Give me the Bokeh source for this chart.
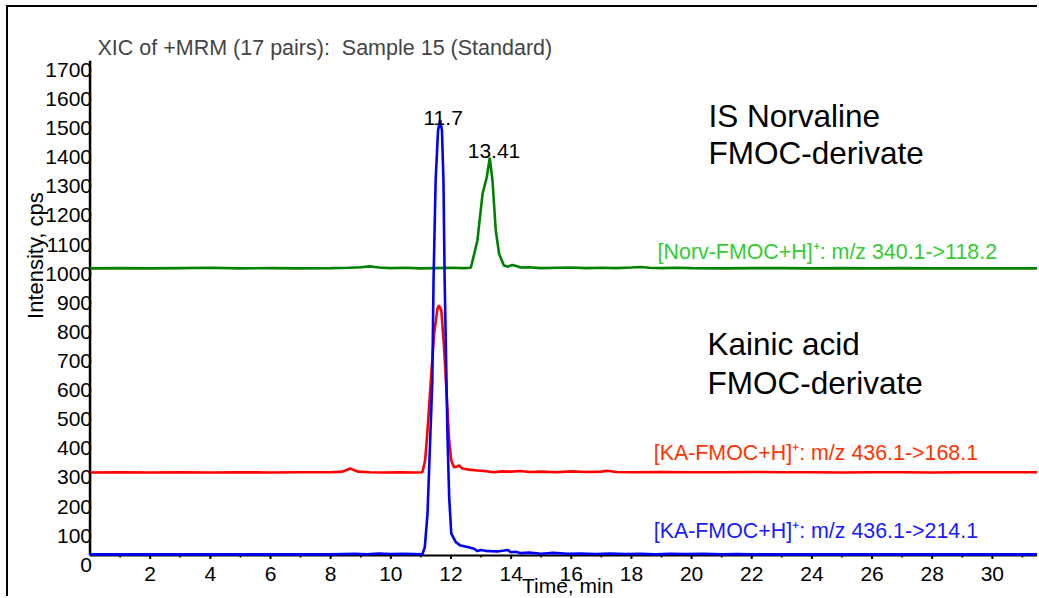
import math
from bokeh.plotting import figure
from bokeh.models import Range1d
from bokeh.core.properties import value
from bokeh.embed import file_html
from bokeh.resources import INLINE

FONT = "Liberation Sans"

# ---------------- data ----------------
x_ticks = [2, 4, 6, 8, 10, 12, 14, 16, 18, 20, 22, 24, 26, 28, 30]
x_tick_labels = ["2", "4", "6", "8", "10", "12", "14", "16", "18", "20",
                 "22", "24", "26", "28", "30"]
x_minor = [1, 3, 5, 7, 9, 11, 13, 15, 17, 19, 21, 23, 25, 27, 29, 31]
y_ticks = [0, 100, 200, 300, 400, 500, 600, 700, 800, 900, 1000,
           1100, 1200, 1300, 1400, 1500, 1600, 1700]
y_tick_labels = ["0", "100", "200", "300", "400", "500", "600", "700", "800",
                 "900", "1000", "1100", "1200", "1300", "1400", "1500",
                 "1600", "1700"]

# IS Norvaline FMOC-derivate, m/z 340.1 -> 118.2 (green)
green_t = [0, 1, 2, 3, 4, 5, 6, 7, 8, 8.6, 9.0, 9.3, 9.6, 10.0, 10.5, 11.0,
           11.5, 12.0, 12.4, 12.66, 12.88, 13.05, 13.19, 13.29, 13.38, 13.49,
           13.60, 13.76, 13.9, 14.04, 14.2, 14.32, 14.6, 15.0, 15.5, 16.0,
           16.5, 17.0, 17.5, 18.0, 18.3, 18.6, 19.0, 19.5, 20.0, 21.0, 22.0,
           23.0, 24.0, 25.0, 26.0, 27.0, 28.0, 29.0, 30.0, 31.0, 31.5]
green_i = [986, 987, 986, 987, 988, 986, 987, 986, 987, 988, 990, 993, 989,
           987, 988, 986, 987, 988, 987, 988, 1082, 1242, 1299, 1366, 1288,
           1116, 1036, 996, 992, 998, 993, 989, 990, 987, 988, 989, 987, 988,
           987, 989, 991, 988, 987, 988, 987, 986, 987, 987, 986, 987, 986,
           987, 986, 986, 986, 986, 986]

# Kainic acid FMOC-derivate, m/z 436.1 -> 168.1 (red)
red_t = [0, 1, 2, 3, 4, 5, 6, 7, 8, 8.4, 8.65, 8.9, 9.3, 9.8, 10.3, 10.8,
         11.05, 11.14, 11.22, 11.33, 11.44, 11.55, 11.60, 11.68, 11.77, 11.86,
         11.94, 12.01, 12.10, 12.20, 12.27, 12.36, 12.44, 12.6, 12.88, 13.1,
         13.43, 13.7, 14.0, 14.3, 14.6, 15.0, 15.5, 16.0, 16.5, 17.0, 17.2,
         17.5, 18.0, 19.0, 20.0, 21.0, 22.0, 23.0, 24.0, 25.0, 26.0, 27.0,
         28.0, 29.0, 30.0, 31.0, 31.5]
red_i = [285, 286, 285, 286, 285, 286, 285, 286, 286, 288, 299, 288, 286, 285,
         286, 285, 286, 326, 429, 601, 761, 847, 859, 841, 715, 544, 395, 326,
         303, 306, 309, 300, 298, 295, 292, 290, 286, 289, 288, 290, 287, 288,
         286, 289, 287, 288, 291, 287, 286, 287, 286, 286, 287, 286, 286, 285,
         286, 286, 285, 286, 286, 286, 286]

# Kainic acid FMOC-derivate, m/z 436.1 -> 214.1 (blue)
blue_t = [0, 1, 2, 3, 4, 5, 6, 7, 8, 8.8, 9.2, 9.6, 10.0, 10.4, 10.8, 11.05,
          11.13, 11.22, 11.30, 11.38, 11.42, 11.49, 11.57, 11.64, 11.70, 11.75,
          11.79, 11.83, 11.88, 11.94, 12.01, 12.16, 12.32, 12.55, 12.77, 12.88,
          12.99, 13.15, 13.33, 13.55, 13.77, 13.88, 14.0, 14.15, 14.33, 14.6,
          15.0, 15.4, 15.88, 16.3, 16.8, 17.3, 17.8, 18.3, 18.8, 19.3, 19.8,
          20.4, 21.0, 21.5, 22.0, 23.0, 24.0, 25.0, 26.0, 27.0, 28.0, 29.0,
          30.0, 31.0, 31.5]
blue_i = [4, 4, 4, 4, 4, 4, 4, 4, 4, 6, 4, 7, 5, 6, 5, 4, 29, 143, 372, 601,
          944, 1288, 1460, 1496, 1460, 1288, 944, 715, 429, 200, 75, 46, 34,
          29, 23, 15, 19, 16, 15, 14, 17, 19, 11, 13, 8, 10, 6, 9, 6, 7, 5, 7,
          5, 6, 4, 6, 5, 6, 4, 5, 4, 4, 4, 4, 4, 4, 4, 4, 4, 4, 4]

peak_labels = ["11.7", "13.41"]
trace_labels = ["[Norv-FMOC+H]\u207a: m/z 340.1->118.2",
                "[KA-FMOC+H]\u207a: m/z 436.1->168.1",
                "[KA-FMOC+H]\u207a: m/z 436.1->214.1"]

X_END = 31.5
Y_TOP = 1700

# ---------------- figure ----------------
# the plotting frame covers the whole canvas below the title; the axes are
# drawn inside it so that their texts sit exactly where the original has them
p = figure(width=1031, height=591,
           x_range=Range1d(-2.711, 31.567), y_range=Range1d(-147.7, Y_TOP),
           output_backend="svg", toolbar_location=None,
           min_border_left=0, min_border_right=0, min_border_bottom=0,
           min_border_top=53)
p.styles = {"margin-left": "6px", "margin-top": "5px",
            "border-left": "2px solid black", "border-top": "2px solid black"}
p.outline_line_color = None
p.xaxis.visible = False
p.yaxis.visible = False
p.xgrid.visible = False
p.ygrid.visible = False
p.background_fill_color = "white"
p.border_fill_color = "white"

p.title.text = "XIC of +MRM (17 pairs):\u00a0 Sample 15 (Standard)"
p.title.text_font = FONT
p.title.text_font_size = "21.5px"
p.title.text_font_style = "normal"
p.title.align = "left"
p.title.offset = 89
p.title.standoff = 1

# axis lines and ticks
p.segment(x0=[0], y0=[0], x1=[X_END], y1=[0], line_color="black", line_width=2)
p.segment(x0=[0], y0=[0], x1=[0], y1=[Y_TOP], line_color="black", line_width=2.5)
p.segment(x0=x_ticks, y0=[0] * len(x_ticks), x1=x_ticks, y1=[-12] * len(x_ticks),
          line_color="black", line_width=2)
p.segment(x0=x_minor, y0=[0] * len(x_minor), x1=x_minor, y1=[-7] * len(x_minor),
          line_color="black", line_width=1.5)

# traces
p.line(green_t, green_i, line_color="#008000", line_width=2.6)
p.line(red_t, red_i, line_color="#ff0000", line_width=2.6)
p.line(blue_t, blue_i, line_color="#0000ff", line_width=2.6)

TXT = dict(text_font=value(FONT))

# tick labels
p.text(x=x_ticks, y=[-65] * len(x_ticks), text=x_tick_labels,
       text_align="center", text_baseline="middle",
       text_font_size=value("21px"), text_color="black", **TXT)
p.text(x=[0.066] * len(y_ticks), y=[v - 32 for v in y_ticks], text=y_tick_labels,
       text_align="right", text_baseline="middle",
       text_font_size=value("21px"), text_color="black", **TXT)

# axis titles
p.text(x=[15.88], y=[-103], text=["Time, min"], text_align="center",
       text_baseline="middle", text_font_size=value("21px"),
       text_color="black", **TXT)
p.text(x=[-1.81], y=[1030], text=["Intensity, cps"], text_align="center",
       text_baseline="middle", angle=math.pi / 2,
       text_font_size=value("22px"), text_color="black", **TXT)

# peak labels
p.text(x=[11.74, 13.43], y=[1502, 1389], text=peak_labels,
       text_align="center", text_baseline="middle",
       text_font_size=value("21px"), text_color="black", **TXT)

# compound names
p.text(x=[20.56, 20.56, 20.53, 20.53], y=[1509, 1381, 725, 594],
       text=["IS Norvaline", "FMOC-derivate", "Kainic acid", "FMOC-derivate"],
       text_align="left", text_baseline="middle",
       text_font_size=value("31.5px"), text_color="black", **TXT)

# transition labels
p.text(x=[18.87, 18.74, 18.74], y=[1042, 352, 84], text=trace_labels,
       text_align="left", text_baseline="middle",
       text_font_size=value("21.4px"),
       text_color=["#33cc33", "#ff3300", "#1a1aff"], **TXT)

open("out.html", "w").write(file_html(p, INLINE))
